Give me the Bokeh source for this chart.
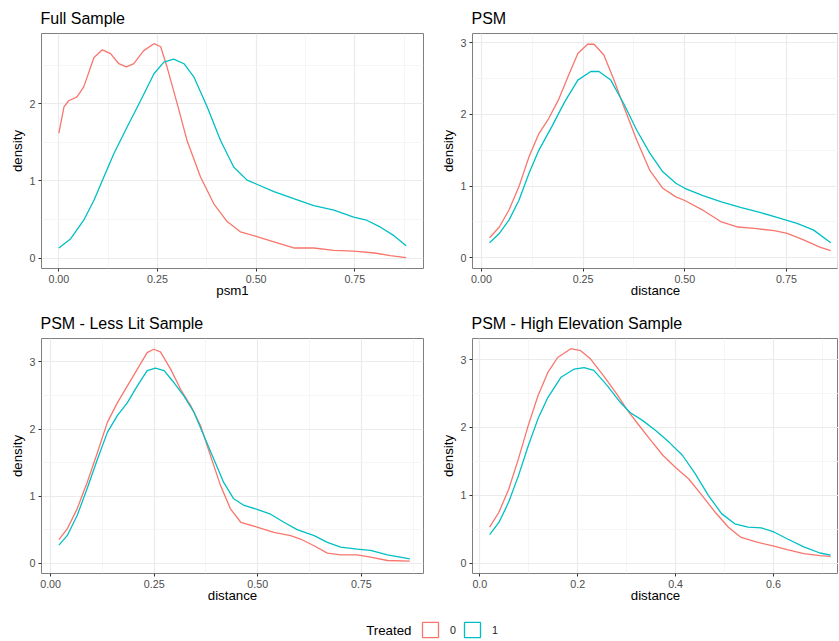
from bokeh.plotting import figure
from bokeh.layouts import column, row
from bokeh.models import (Range1d, FixedTicker, Legend, LegendItem, Label,
                          ColumnDataSource, NumeralTickFormatter)
from bokeh.embed import file_html
from bokeh.resources import INLINE

# ---------------- data ----------------
full_x0 = [0.0, 0.013, 0.025, 0.046, 0.063, 0.089, 0.11, 0.131, 0.152, 0.171, 0.19, 0.215,
           0.241, 0.258, 0.274, 0.30, 0.325, 0.359, 0.393, 0.427, 0.46, 0.5, 0.545, 0.595,
           0.646, 0.697, 0.747, 0.80, 0.84, 0.88]
full_y0 = [1.62, 1.96, 2.04, 2.09, 2.22, 2.60, 2.70, 2.65, 2.52, 2.48, 2.52, 2.69,
           2.78, 2.74, 2.48, 2.0, 1.52, 1.05, 0.70, 0.47, 0.34, 0.28, 0.21, 0.13,
           0.13, 0.10, 0.09, 0.065, 0.03, 0.005]
full_x1 = [0.0, 0.03, 0.063, 0.089, 0.114, 0.139, 0.173, 0.207, 0.241, 0.266, 0.291, 0.317,
           0.342, 0.376, 0.41, 0.443, 0.477, 0.5, 0.545, 0.595, 0.646, 0.697, 0.747, 0.78,
           0.815, 0.849, 0.88]
full_y1 = [0.13, 0.25, 0.49, 0.75, 1.05, 1.35, 1.70, 2.04, 2.39, 2.54, 2.58, 2.52,
           2.35, 1.96, 1.52, 1.18, 1.01, 0.96, 0.86, 0.77, 0.68, 0.62, 0.53, 0.49,
           0.40, 0.29, 0.16]

psm_x0 = [0.02, 0.044, 0.068, 0.092, 0.117, 0.141, 0.165, 0.189, 0.213, 0.237, 0.261, 0.277,
          0.301, 0.326, 0.35, 0.382, 0.414, 0.446, 0.478, 0.5, 0.543, 0.59, 0.631, 0.671,
          0.72, 0.752, 0.792, 0.832, 0.859]
psm_y0 = [0.28, 0.43, 0.67, 0.99, 1.41, 1.73, 1.94, 2.20, 2.53, 2.85, 2.98, 2.98,
          2.83, 2.48, 2.11, 1.64, 1.22, 0.97, 0.85, 0.80, 0.67, 0.50, 0.43, 0.41,
          0.38, 0.34, 0.25, 0.15, 0.10]
psm_x1 = [0.02, 0.044, 0.068, 0.092, 0.117, 0.141, 0.173, 0.205, 0.237, 0.269, 0.289, 0.318,
          0.35, 0.382, 0.414, 0.446, 0.478, 0.5, 0.543, 0.59, 0.639, 0.687, 0.735, 0.776,
          0.816, 0.859]
psm_y1 = [0.21, 0.34, 0.53, 0.80, 1.18, 1.50, 1.83, 2.18, 2.48, 2.60, 2.60, 2.48,
          2.15, 1.78, 1.46, 1.20, 1.04, 0.97, 0.87, 0.78, 0.70, 0.63, 0.55, 0.48,
          0.39, 0.21]

lit_x0 = [0.02, 0.04, 0.064, 0.088, 0.113, 0.137, 0.161, 0.185, 0.209, 0.233, 0.249, 0.265,
          0.29, 0.314, 0.338, 0.362, 0.386, 0.41, 0.434, 0.459, 0.5, 0.539, 0.579, 0.603,
          0.636, 0.668, 0.70, 0.74, 0.772, 0.813, 0.867]
lit_y0 = [0.35, 0.51, 0.81, 1.20, 1.65, 2.10, 2.39, 2.64, 2.89, 3.14, 3.19, 3.15,
          2.89, 2.59, 2.35, 2.05, 1.60, 1.16, 0.81, 0.61, 0.535, 0.46, 0.41, 0.36,
          0.26, 0.15, 0.125, 0.125, 0.09, 0.04, 0.03]
lit_x1 = [0.02, 0.04, 0.064, 0.088, 0.113, 0.137, 0.161, 0.185, 0.209, 0.233, 0.253, 0.274,
          0.298, 0.322, 0.346, 0.37, 0.394, 0.418, 0.442, 0.467, 0.5, 0.531, 0.563, 0.595,
          0.636, 0.668, 0.70, 0.74, 0.772, 0.813, 0.867]
lit_y1 = [0.27, 0.41, 0.71, 1.11, 1.55, 1.95, 2.20, 2.39, 2.64, 2.87, 2.91, 2.87,
          2.69, 2.49, 2.25, 1.90, 1.55, 1.20, 0.96, 0.86, 0.80, 0.73, 0.61, 0.50,
          0.41, 0.31, 0.24, 0.21, 0.19, 0.125, 0.065]

elev_x0 = [0.02, 0.039, 0.059, 0.079, 0.099, 0.119, 0.139, 0.159, 0.186, 0.206, 0.226, 0.253,
           0.28, 0.30, 0.32, 0.347, 0.374, 0.40, 0.427, 0.454, 0.481, 0.508, 0.534, 0.561,
           0.601, 0.628, 0.662, 0.695, 0.717]
elev_y0 = [0.53, 0.75, 1.09, 1.54, 2.03, 2.47, 2.81, 3.03, 3.16, 3.13, 3.01, 2.76,
           2.49, 2.27, 2.08, 1.83, 1.59, 1.41, 1.24, 1.00, 0.75, 0.53, 0.38, 0.32,
           0.25, 0.20, 0.14, 0.11, 0.10]
elev_x1 = [0.02, 0.039, 0.059, 0.079, 0.099, 0.119, 0.139, 0.166, 0.193, 0.213, 0.233, 0.26,
           0.287, 0.307, 0.333, 0.36, 0.387, 0.414, 0.44, 0.467, 0.494, 0.521, 0.548, 0.575,
           0.601, 0.628, 0.662, 0.695, 0.717]
elev_y1 = [0.42, 0.60, 0.90, 1.29, 1.73, 2.13, 2.44, 2.74, 2.86, 2.88, 2.84, 2.62,
           2.37, 2.22, 2.10, 1.95, 1.78, 1.59, 1.32, 1.00, 0.73, 0.58, 0.53, 0.52,
           0.46, 0.36, 0.24, 0.15, 0.12]

titles = ["Full Sample", "PSM", "PSM - Less Lit Sample", "PSM - High Elevation Sample"]
x_labels = ["psm1", "distance", "distance", "distance"]
group_labels = ["0", "1"]
legend_title = "Treated"

ticks_q = [0.0, 0.25, 0.5, 0.75]
minor_q = [0.125, 0.375, 0.625, 0.875]
ticks_e = [0.0, 0.2, 0.4, 0.6]
minor_e = [0.1, 0.3, 0.5, 0.7]

# ---------------- style ----------------
RED = "#F8766D"
TEAL = "#00BFC4"
FONT = "Liberation Sans"


def panel(title, xlab, xs0, ys0, xs1, ys1, xr, yr, xt, xm, yt, ym, fmt,
          width, height, bl, br, bt, bb):
    p = figure(width=width, height=height, x_range=Range1d(*xr), y_range=Range1d(*yr),
               output_backend="svg", toolbar_location=None, title=title,
               min_border_left=bl, min_border_right=br, min_border_top=bt,
               min_border_bottom=bb)
    p.title.text_font = FONT
    p.title.text_font_size = "16px"
    p.title.text_font_style = "normal"
    p.title.text_color = "black"
    p.title.align = "left"
    p.title.standoff = 13
    p.title.offset = -1
    p.background_fill_color = "white"
    p.border_fill_color = "white"
    p.outline_line_color = "#7f7f7f"
    p.outline_line_width = 1

    p.xaxis.ticker = FixedTicker(ticks=xt, minor_ticks=xm)
    p.yaxis.ticker = FixedTicker(ticks=yt, minor_ticks=ym)
    p.xaxis.formatter = NumeralTickFormatter(format=fmt)
    p.xaxis.axis_label = xlab
    p.yaxis.axis_label = "density"
    for ax in (p.xaxis, p.yaxis):
        ax.axis_line_color = None
        ax.major_tick_line_color = "#333333"
        ax.major_tick_out = 3
        ax.major_tick_in = 0
        ax.minor_tick_line_color = None
        ax.major_label_text_font = FONT
        ax.major_label_text_font_size = "10.7px"
        ax.major_label_text_color = "#4D4D4D"
        ax.major_label_standoff = 2
        ax.axis_label_text_font = FONT
        ax.axis_label_text_font_size = "13.3px"
        ax.axis_label_text_font_style = "normal"
        ax.axis_label_text_color = "black"
    p.xaxis.axis_label_standoff = -3
    p.yaxis.axis_label_standoff = 2
    for g in (p.xgrid, p.ygrid):
        g.grid_line_color = "#EBEBEB"
        g.grid_line_width = 1.2
        g.minor_grid_line_color = "#F4F4F4"
        g.minor_grid_line_width = 0.8

    p.line(xs0, ys0, line_color=RED, line_width=1.3)
    p.line(xs1, ys1, line_color=TEAL, line_width=1.3)
    return p


p1 = panel(titles[0], x_labels[0], full_x0, full_y0, full_x1, full_y1,
           (-0.044, 0.924), (-0.136, 2.912), ticks_q, minor_q, [0, 1, 2], [0.5, 1.5, 2.5],
           "0.00", 437, 305, 41, 14, 33, 37)
p2 = panel(titles[1], x_labels[1], psm_x0, psm_y0, psm_x1, psm_y1,
           (-0.022, 0.878), (-0.149, 3.13), ticks_q, minor_q, [0, 1, 2, 3], [0.5, 1.5, 2.5],
           "0.00", 401, 305, 30, 0, 33, 37)
p3 = panel(titles[2], x_labels[2], lit_x0, lit_y0, lit_x1, lit_y1,
           (-0.022, 0.900), (-0.154, 3.35), ticks_q, minor_q, [0, 1, 2, 3], [0.5, 1.5, 2.5],
           "0.00", 437, 305, 41, 14, 33, 37)
p4 = panel(titles[3], x_labels[3], elev_x0, elev_y0, elev_x1, elev_y1,
           (-0.015, 0.733), (-0.152, 3.31), ticks_e, minor_e, [0, 1, 2, 3], [0.5, 1.5, 2.5],
           "0.0", 401, 305, 30, 0, 33, 37)

# ---------------- legend strip ----------------
leg = figure(width=838, height=30, output_backend="svg", toolbar_location=None,
             x_range=Range1d(0, 1), y_range=Range1d(0, 1),
             x_axis_location=None, y_axis_location=None, min_border=0)
leg.xgrid.visible = False
leg.ygrid.visible = False
leg.outline_line_color = None
nan = float("nan")
proxy0 = ColumnDataSource(dict(x=[nan], y=[nan]))
proxy1 = ColumnDataSource(dict(x=[nan], y=[nan]))
r0 = leg.rect(x="x", y="y", width=0.1, height=0.1, source=proxy0,
              fill_color="white", line_color=RED, line_width=1.3)
r1 = leg.rect(x="x", y="y", width=0.1, height=0.1, source=proxy1,
              fill_color="white", line_color=TEAL, line_width=1.3)
legend = Legend(items=[LegendItem(label=group_labels[0], renderers=[r0], index=0),
                       LegendItem(label=group_labels[1], renderers=[r1], index=0)],
                orientation="horizontal", location=(420, 1),
                glyph_width=20, glyph_height=19, label_standoff=10, spacing=6,
                padding=0, margin=0, border_line_color=None, background_fill_alpha=0,
                label_text_font=FONT, label_text_font_size="10.7px",
                label_text_color="#1A1A1A", label_width=6, label_height=19)
leg.add_layout(legend, "center")
leg.add_layout(Label(x=411, y=10.5, x_units="screen", y_units="screen", text=legend_title,
                     text_align="right", text_baseline="middle", text_font=FONT,
                     text_font_size="13.3px", text_color="black"))

layout = column(row(p1, p2, spacing=0), row(p3, p4, spacing=0), leg, spacing=0)

with open("out.html", "w") as f:
    f.write(file_html(layout, INLINE))
